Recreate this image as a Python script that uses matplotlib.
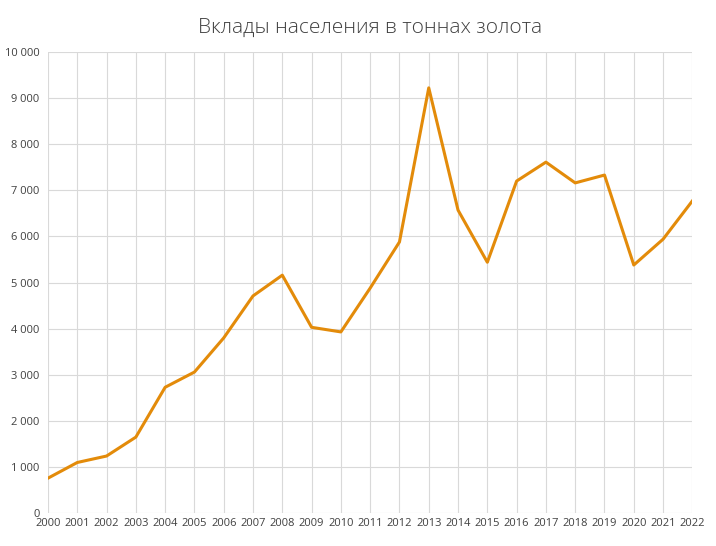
import matplotlib
matplotlib.use("Agg")
import matplotlib.pyplot as plt
from matplotlib.ticker import FuncFormatter, MultipleLocator

plt.rcParams["font.family"] = ["Open Sans", "DejaVu Sans"]

years = list(range(2000, 2023))
deposits = [760, 1100, 1240, 1650, 2730, 3060, 3800, 4710, 5160, 4030, 3930, 4880,
            5880, 9220, 6570, 5440, 7200, 7610, 7160, 7330, 5380, 5940, 6770]

fig = plt.figure(figsize=(7.16, 5.46), dpi=100)
ax = fig.add_axes([0.067, 0.06, 0.900, 0.845])
ax.plot(years, deposits, color="#E38B0A", linewidth=2.2, solid_joinstyle="round")

ax.set_xlim(2000, 2022)
ax.set_ylim(0, 10000)
ax.set_xticks(years)
ax.yaxis.set_major_locator(MultipleLocator(1000))
ax.yaxis.set_major_formatter(FuncFormatter(lambda v, p: f"{int(v):,}".replace(",", " ")))
ax.grid(True, color="#D9D9D9", linewidth=0.8)
for s in ax.spines.values():
    s.set_visible(False)
ax.tick_params(length=0, labelsize=8, colors="#404040")
ax.tick_params(axis="y", pad=6)
ax.set_title("Вклады населения в тоннах золота", fontsize=15, color="#404040",
             pad=14, fontweight="light")

fig.savefig("out.png", dpi=100)
